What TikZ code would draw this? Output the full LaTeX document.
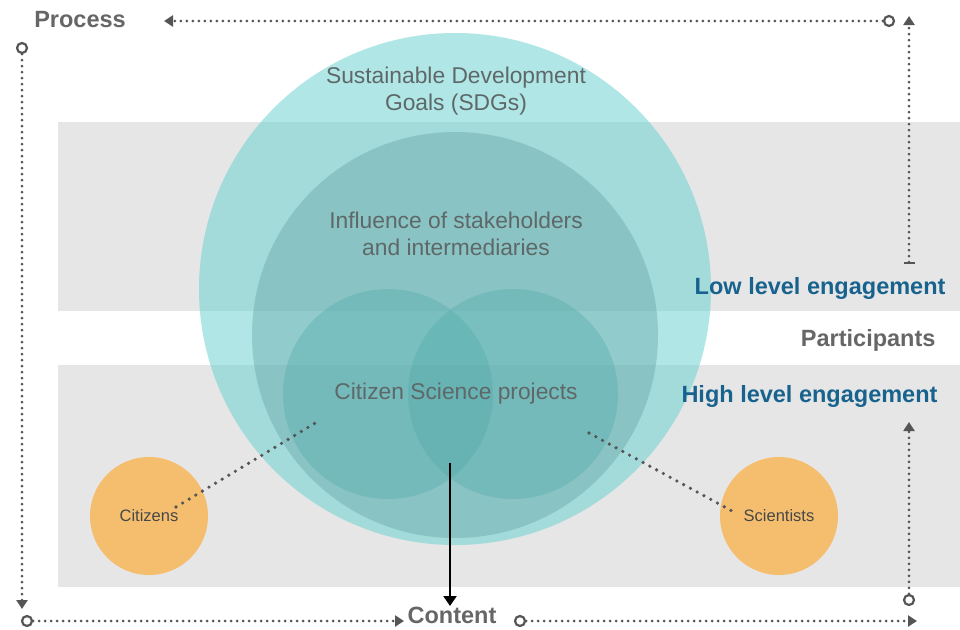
\documentclass[tikz,border=0pt]{standalone}
\usepackage{fontspec}
\setmainfont{Liberation Sans}
\usetikzlibrary{arrows.meta}
\definecolor{bandgrey}{HTML}{E6E6E6}
\definecolor{sdg}{HTML}{62CFCF}
\definecolor{infl}{HTML}{5A9A9A}
\definecolor{venn}{HTML}{48A6A6}
\definecolor{orangec}{HTML}{F5BE6F}
\definecolor{txtgrey}{HTML}{666666}
\definecolor{cstxt}{HTML}{5F6868}
\definecolor{dotgrey}{HTML}{555555}
\definecolor{engblue}{HTML}{17638E}
\begin{document}
\begin{tikzpicture}[x=1pt,y=-1pt,
  bigtxt/.style={text=cstxt,font=\fontsize{22.8}{26.5}\selectfont,align=center},
  axislabel/.style={text=txtgrey,font=\bfseries\fontsize{23.5}{27}\selectfont},
  englabel/.style={text=engblue,font=\bfseries\fontsize{23.5}{27}\selectfont},
  person/.style={circle,fill=orangec,minimum size=118pt,inner sep=0pt,text=black!72,font=\fontsize{16.5}{19}\selectfont},
  dotline/.style={draw=dotgrey,line width=3pt,line cap=round,dash pattern=on 0pt off 6pt},
  linkdots/.style={draw=dotgrey,line width=3.6pt,line cap=round,dash pattern=on 0pt off 7.7pt},
  marker/.style={circle,draw=dotgrey,line width=2.2pt,fill=white,minimum size=10pt,inner sep=0pt},
  tri/.style={-{Triangle[length=9pt,width=11pt,color=dotgrey]}},
  layer/.style={circle,inner sep=0pt,draw=none},
]
\useasboundingbox (0,0) rectangle (960,629);
\fill[white] (0,0) rectangle (960,629);
% bands
\fill[bandgrey] (58,122) rectangle (960,311);
\fill[bandgrey] (58,365) rectangle (960,587);
% circles
\node[layer,fill=sdg,fill opacity=0.5,minimum size=512pt] (sdgc) at (455,289) {};
\node[layer,fill=infl,fill opacity=0.35,minimum size=406pt] (inflc) at (455,335) {};
\node[layer,fill=venn,fill opacity=0.3,minimum size=210pt] (vennl) at (388,394) {};
\node[layer,fill=venn,fill opacity=0.3,minimum size=210pt] (vennr) at (513,394) {};
% texts in circles
\node[bigtxt] (sdgt) at (456,91) {Sustainable Development\\Goals (SDGs)};
\node[bigtxt] (inflt) at (456,234) {Influence of stakeholders\\and intermediaries};
\node[bigtxt] (cst) at (456,394) {Citizen Science projects};
% persons
\node[person] (cit) at (149,516) {Citizens};
\node[person] (sci) at (779,516) {Scientists};
\coordinate (citA) at (176,507);
\coordinate (csL) at (317,422);
\coordinate (csR) at (589,433);
\coordinate (sciA) at (732,511);
\draw[linkdots] (citA) -- (csL);
\draw[linkdots] (csR) -- (sciA);
% labels
\node[axislabel] (proc) at (80,20) {Process};
\node[axislabel,anchor=base,inner sep=0.5pt] (cont) at (452,623) {Content};
\node[axislabel,anchor=east] (part) at (939,340) {Participants};
\node[englabel,anchor=east] (low) at (949,288) {Low level engagement};
\node[englabel,anchor=east] (high) at (941,396) {High level engagement};
% process axes
\node[marker] (m1) at (889,21) {};
\coordinate (e1) at (164,21);
\draw[dotline,tri] (m1) -- (e1);
\node[marker] (m2) at (22,48) {};
\coordinate (e2) at (22,609);
\draw[dotline,tri] (m2) -- (e2);
% content axes
\node[marker] (m3) at (27,621) {};
\coordinate (e3) at (404,621);
\draw[dotline,tri] (m3) -- (e3);
\node[marker] (m4) at (520,621) {};
\coordinate (e4) at (917,621);
\draw[dotline,tri] (m4) -- (e4);
% participants axes
\coordinate (b5) at (909,264);
\coordinate (e5) at (909,16);
\draw[dotline,{Bar[width=11pt,line width=2.5pt,color=dotgrey]}-{Triangle[length=9pt,width=11pt,color=dotgrey]}] (b5) -- (e5);
\node[marker] (m6) at (909,600) {};
\coordinate (e6) at (909,422);
\draw[dotline,tri] (m6) -- (e6);
% content arrow
\coordinate (ca) at (450,463);
\coordinate (cb) at (450,606);
\draw[black,line width=2.2pt,-{Triangle[length=10pt,width=13pt]}] (ca) -- (cb);
\end{tikzpicture}
\end{document}
